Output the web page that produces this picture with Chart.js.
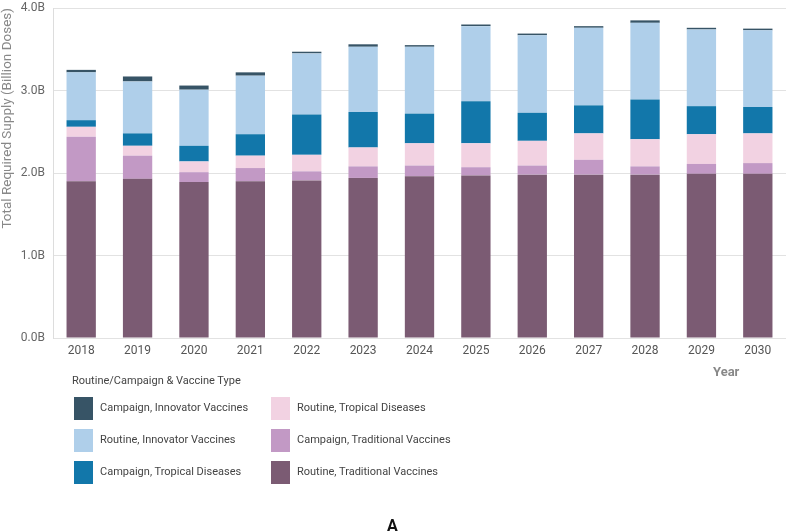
<!DOCTYPE html>
<html>
<head>
<meta charset="utf-8">
<script src="https://cdn.jsdelivr.net/npm/chart.js@4"></script>
<style>
    body { margin: 0; background: #fff; font-family: Roboto, "Liberation Sans", sans-serif; }
    #wrap { position: relative; width: 787px; height: 532px; }
    #grafico { position: absolute; left: 0; top: 0; }
    .txt { position: absolute; color: #555; white-space: nowrap; }
    #tituloLegenda { left: 72px; top: 374px; font-size: 11px; color: #444; }
    #ano { left: 713px; top: 364px; font-size: 13px; font-weight: bold; color: #888; }
    #letra { left: 387px; top: 516px; font-size: 16px; font-weight: bold; color: #111; }
    .item { position: absolute; height: 23px; font-size: 11px; color: #444; }
    .item span.cor { position: absolute; left: 0; top: 0; width: 19px; height: 23px; }
    .item span.rotulo { position: absolute; left: 26px; top: 4px; white-space: nowrap; }
</style>
</head>
<body>
<div id="wrap">
    <canvas id="grafico" width="787" height="532"></canvas>
    <div class="txt" id="tituloLegenda">Routine/Campaign &amp; Vaccine Type</div>
    <div class="txt" id="ano">Year</div>
    <div class="txt" id="letra">A</div>
    <div id="legenda"></div>
</div>
<script>
const anos = ['2018','2019','2020','2021','2022','2023','2024','2025','2026','2027','2028','2029','2030'];

// valores em bilhoes de doses, de baixo para cima na pilha
const rotinaTradicional   = [1.90, 1.93, 1.89, 1.90, 1.91, 1.94, 1.96, 1.97, 1.98, 1.98, 1.98, 1.99, 1.99];
const campanhaTradicional = [0.54, 0.28, 0.12, 0.16, 0.11, 0.14, 0.13, 0.10, 0.11, 0.18, 0.10, 0.12, 0.13];
const rotinaTropical      = [0.12, 0.12, 0.13, 0.15, 0.20, 0.23, 0.27, 0.29, 0.30, 0.32, 0.33, 0.36, 0.36];
const campanhaTropical    = [0.08, 0.15, 0.19, 0.26, 0.49, 0.43, 0.36, 0.51, 0.34, 0.34, 0.48, 0.34, 0.32];
const rotinaInovadora     = [0.58, 0.63, 0.68, 0.71, 0.74, 0.79, 0.81, 0.91, 0.94, 0.94, 0.93, 0.93, 0.93];
const campanhaInovadora   = [0.03, 0.06, 0.05, 0.04, 0.02, 0.03, 0.02, 0.02, 0.02, 0.02, 0.03, 0.02, 0.02];

const ticksY = [0, 1, 2, 3, 4];

const series = [
    { nome: 'Routine, Traditional Vaccines',  dados: rotinaTradicional,   cor: '#7B5B73' },
    { nome: 'Campaign, Traditional Vaccines', dados: campanhaTradicional, cor: '#C299C5' },
    { nome: 'Routine, Tropical Diseases',     dados: rotinaTropical,      cor: '#F2D2E2' },
    { nome: 'Campaign, Tropical Diseases',    dados: campanhaTropical,    cor: '#1277AA' },
    { nome: 'Routine, Innovator Vaccines',    dados: rotinaInovadora,     cor: '#AFCFEA' },
    { nome: 'Campaign, Innovator Vaccines',   dados: campanhaInovadora,   cor: '#375466' }
];

// legenda em duas colunas, de cima para baixo
const ordemLegenda = [5, 4, 3, 2, 1, 0];

function montarLegenda(){
    const legenda = document.getElementById('legenda');
    ordemLegenda.forEach((idx, i) => {
        const col = Math.floor(i / 3);
        const lin = i % 3;
        const item = document.createElement('div');
        item.className = 'item';
        item.style.left = (74 + col * 197) + 'px';
        item.style.top = (397 + lin * 32) + 'px';
        item.innerHTML = `<span class="cor" style="background:${series[idx].cor}"></span><span class="rotulo">${series[idx].nome}</span>`;
        legenda.appendChild(item);
    });
}

const ctx = document.getElementById('grafico');

new Chart(ctx, {
    type: 'bar',
    data: {
        labels: anos,
        datasets: series.map(s => ({
            label: s.nome,
            data: s.dados,
            backgroundColor: s.cor,
            borderWidth: 0,
            categoryPercentage: 1,
            barPercentage: 0.52
        }))
    },
    options: {
        responsive: false,
        animation: false,
        layout: { padding: { top: 8, right: 1, bottom: 172, left: 0 } },
        plugins: {
            legend: { display: false },
            tooltip: { enabled: false }
        },
        scales: {
            x: {
                stacked: true,
                grid: { display: false, drawTicks: false },
                border: { display: false },
                ticks: { color: '#555', font: { family: 'Roboto', size: 12 }, padding: 6 },
                afterFit: s => { s.height = 22; }
            },
            y: {
                stacked: true,
                min: 0,
                max: 4,
                afterBuildTicks: s => { s.ticks = ticksY.map(v => ({ value: v })); },
                ticks: {
                    color: '#666',
                    font: { family: 'Roboto', size: 12 },
                    padding: 8,
                    callback: v => v.toFixed(1) + 'B'
                },
                grid: { color: '#e2e2e2', drawTicks: false },
                border: { color: '#dddddd' },
                title: {
                    display: true,
                    text: 'Total Required Supply (Billion Doses)',
                    align: 'end',
                    color: '#888',
                    font: { family: 'Roboto', size: 13.5 },
                    padding: { top: 0, bottom: 0 }
                },
                afterFit: s => {
                    s.width = 53;
                    s.paddingTop = 0;
                    s.paddingBottom = 0;
                }
            }
        }
    }
});

montarLegenda();
</script>
</body>
</html>
